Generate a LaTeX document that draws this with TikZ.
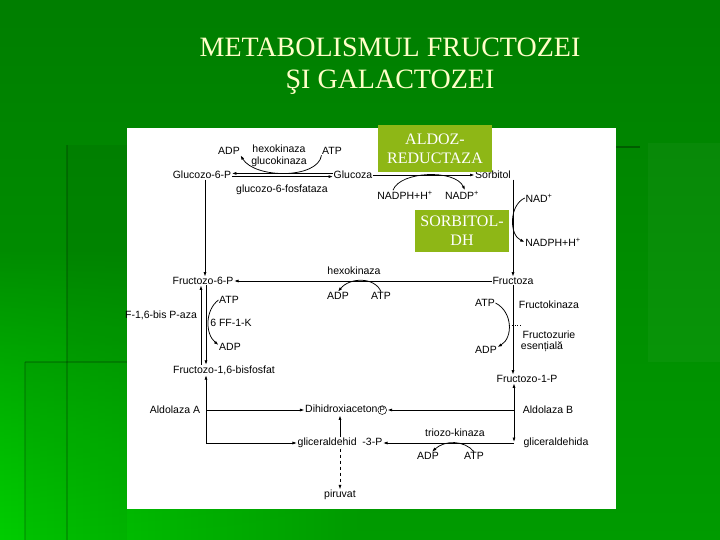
\documentclass[tikz,border=0pt]{standalone}
\usepackage{fontspec}
\setmainfont{Liberation Serif}
\newfontfamily\diagfont{Liberation Sans}
\usetikzlibrary{arrows.meta,fadings}
\definecolor{titlecol}{RGB}{255,255,200}
\definecolor{boxgreen}{RGB}{142,183,22}
\definecolor{bgtop}{RGB}{0,126,0}
\definecolor{bgbot}{RGB}{0,155,0}
\definecolor{bgleft}{RGB}{0,205,0}
\tikzset{
  lbl/.style={font=\diagfont\fontsize{10.5}{12}\selectfont, inner sep=0.5pt, text=black},
  arr/.style={-{Latex[length=4.5pt,width=3pt]}, line width=0.75pt, black},
  ln/.style={line width=0.75pt, black},
  gbox/.style={fill=boxgreen, text=white, font=\fontsize{16}{19}\selectfont, align=center, inner sep=0pt},
  ttl/.style={text=titlecol, font=\fontsize{28}{32}\selectfont, inner sep=0pt},
}
\begin{document}
\begin{tikzpicture}[x=1pt,y=-1pt]
\useasboundingbox (0,0) rectangle (720,540);
% background
\shade[top color=bgtop, bottom color=bgbot] (0,0) rectangle (720,540);
\shade[left color=bgleft, right color=bgbot, path fading=north] (0,250) rectangle (360,540);
\fill[black, opacity=0.05] (67,145) rectangle (127,362);
\fill[black, opacity=0.04] (25,362) rectangle (127,540);
\draw[black, opacity=0.18, line width=1.5pt] (67,145) -- (67,540);
\draw[black, opacity=0.18, line width=1.5pt] (25,362) -- (127,362);
\draw[black, opacity=0.15, line width=1.5pt] (25,362) -- (25,540);
\fill[white, opacity=0.03] (648,143) rectangle (720,362);
\draw[black, opacity=0.3, line width=1.5pt] (616,147) -- (640,147);
% title
\node[ttl] (t1) at (390,47) {METABOLISMUL FRUCTOZEI};
\node[ttl] (t2) at (390,82) {ŞI GALACTOZEI};
% white panel
\fill[white] (127,128) rectangle (616,509);

% top row
\node[lbl] (g6p) at (202,175) {Glucozo-6-P};
\node[lbl] (glc) at (353,175) {Glucoza};
\node[lbl] (sorb) at (493,175) {Sorbitol};
\node[lbl] (adp1) at (229,151) {ADP};
\node[lbl] (hk1) at (279,149) {hexokinaza};
\node[lbl] (gk) at (279,162) {glucokinaza};
\node[lbl] (atp1) at (332,151) {ATP};
\node[lbl] (g6pase) at (282,190) {glucozo-6-fosfataza};
\node[lbl] (nadph1) at (405,195) {NADPH+H\textsuperscript{+}};
\node[lbl] (nadp1) at (462,195) {NADP\textsuperscript{+}};
\node[lbl] (nad2) at (539,198) {NAD\textsuperscript{+}};
\node[lbl] (nadph2) at (553,242) {NADPH+H\textsuperscript{+}};
% second row
\node[lbl] (f6p) at (203,281) {Fructozo-6-P};
\node[lbl] (fru) at (513,281) {Fructoza};
\node[lbl] (hk2) at (354,271) {hexokinaza};
\node[lbl] (adp2) at (338,296) {ADP};
\node[lbl] (atp2) at (381,296) {ATP};
\node[lbl] (fpase) at (161,315) {F-1,6-bis P-aza};
\node[lbl] (atp3) at (229,300) {ATP};
\node[lbl] (pfk) at (231,323) {6 FF-1-K};
\node[lbl] (adp3) at (230,347) {ADP};
\node[lbl] (fbp) at (224,370) {Fructozo-1,6-bisfosfat};
\node[lbl] (fk) at (549,305) {Fructokinaza};
\node[lbl] (atp4) at (485,303) {ATP};
\node[lbl] (adp4) at (486,350) {ADP};
\node[lbl] (fz1) at (549,335) {Fructozurie};
\node[lbl] (fz2) at (542,347) {esențială};
\node[lbl] (f1p) at (527,379) {Fructozo-1-P};
% bottom
\node[lbl] (alda) at (175,410) {Aldolaza A};
\node[lbl] (dhap) at (346,410) {Dihidroxiaceton\tikz[baseline=(cp.base)]\node[circle,draw,line width=0.5pt,inner sep=0.4pt,font=\diagfont\fontsize{8}{9}\selectfont](cp){P};};
\node[lbl] (g3p) at (340,443) {gliceraldehid\ \ -3-P};
\node[lbl] (pyr) at (340,495) {piruvat};
\node[lbl] (aldb) at (548,410) {Aldolaza B};
\node[lbl] (glyc) at (556,443) {gliceraldehida};
\node[lbl] (tk) at (455,433) {triozo-kinaza};
\node[lbl] (adp5) at (428,456) {ADP};
\node[lbl] (atp5) at (474,456) {ATP};
\coordinate (lt) at (206,410);
\coordinate (lb) at (206,443);
\coordinate (rt) at (514,410);
\coordinate (rb) at (514,443);

% green boxes
\node[gbox, minimum width=114pt, minimum height=47pt] (aldr) at (435,148.5) {ALDOZ-\\REDUCTAZA};
\node[gbox, minimum width=94pt, minimum height=42pt] (sdh) at (462,231) {SORBITOL-\\DH};

% connectors top
\draw[arr] ([yshift=1.6pt]glc.west) -- ([yshift=1.6pt]g6p.east);
\draw[arr] ([yshift=-1.6pt]g6p.east) -- ([yshift=-1.6pt]glc.west);
\draw[arr] (atp1.south west) .. controls (318,179) and (255,179) .. (adp1.south east);
\draw[arr] (glc.east) -- (sorb.west);
\draw[arr] ([xshift=-12pt]nadph1.north) .. controls (400,171) and (455,169) .. ([xshift=3pt]nadp1.north);
\draw[arr] (sorb.south -| fru.north) -- (fru.north);
\draw[arr] (nad2.west) .. controls (509,205) and (509,235) .. (nadph2.west);
\draw[arr] ([xshift=3pt]g6p.south) -- ([xshift=2pt]f6p.north);
% second row
\draw[arr] (fru.west) -- (f6p.east);
\draw[arr] (atp2.north) .. controls (375,277) and (350,277) .. (adp2.north);
\draw[arr] ([xshift=-2pt]f6p.south |- fbp.north) -- ([xshift=-2pt]f6p.south);
\draw[arr] ([xshift=3pt]f6p.south) -- ([xshift=3pt]f6p.south |- fbp.north);
\draw[arr] (atp3.west) .. controls (205,310) and (205,334) .. ([yshift=2pt]adp3.west);
\draw[arr] (fru.south) -- (fru.south |- f1p.north);
\draw[arr] (atp4.east) .. controls (513,312) and (513,338) .. ([yshift=3pt]adp4.east);
\draw[ln, dotted] (509,325) -- (fz1.west |- 0,325);
% bottom
\draw[arr] (lb) -- (lb |- fbp.south);
\draw[arr] (lt) -- (dhap.west);
\draw[arr] (lb) -- (g3p.west);
\draw[arr] (rt) -- (rt |- f1p.south);
\draw[arr] (rt) -- ([yshift=1pt]rb);
\draw[arr] (rt) -- (dhap.east);
\draw[arr] (rb) -- (g3p.east);
\draw[arr] (atp5.north) .. controls (464,440) and (445,440) .. ([xshift=4pt]adp5.north);
\draw[arr] (g3p.north -| pyr.north) -- (dhap.south -| pyr.north);
\draw[arr, dashed] (g3p.south -| pyr.north) -- (pyr.north);
\end{tikzpicture}
\end{document}
